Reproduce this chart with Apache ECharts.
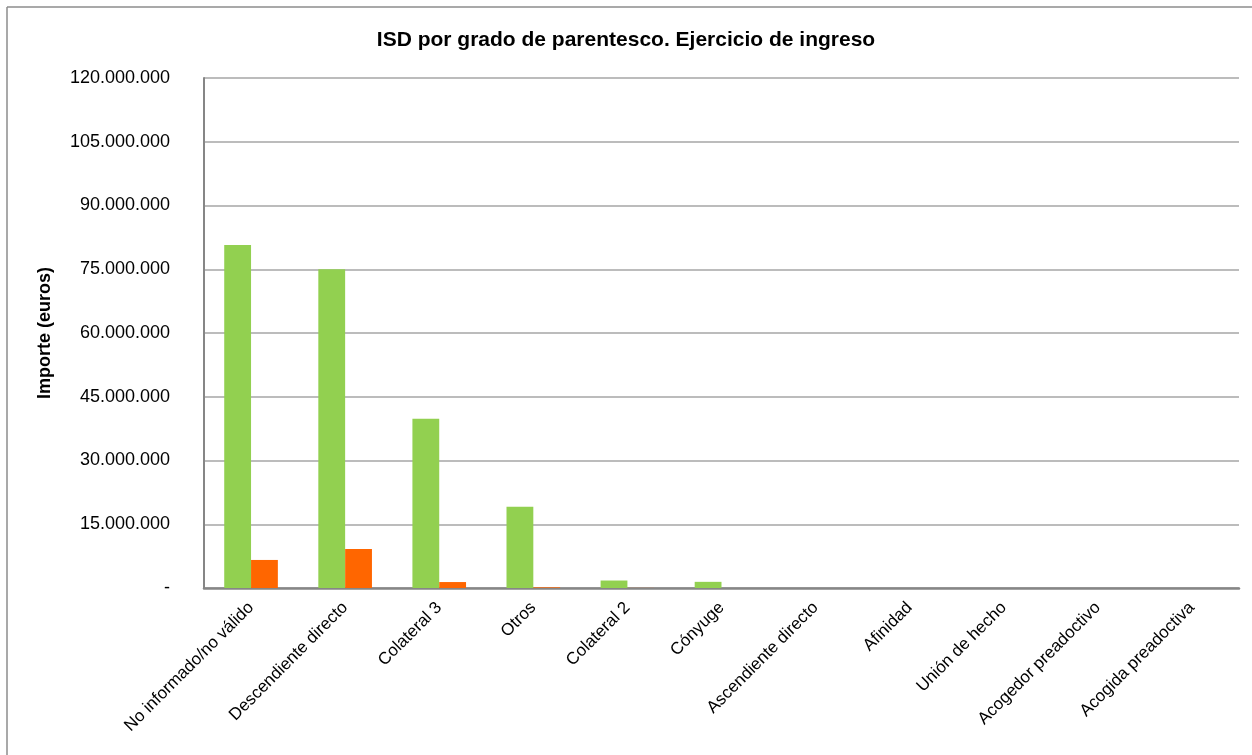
<!DOCTYPE html>
<html>
<head>
<meta charset="utf-8">
<script src="https://cdn.jsdelivr.net/npm/echarts@6/dist/echarts.min.js"></script>
<style>
  html, body { margin: 0; padding: 0; background: #fff; }
  #chart { width: 1252px; height: 755px; }
</style>
</head>
<body>
<div id="chart"></div>
<script>
// categorías (grado de parentesco)
const categories = [
  "No informado/no válido", "Descendiente directo", "Colateral 3", "Otros",
  "Colateral 2", "Cónyuge", "Ascendiente directo", "Afinidad",
  "Unión de hecho", "Acogedor preadoctivo", "Acogida preadoctiva"
];
// importes en euros
const serieVerde = [80700000, 75000000, 39800000, 19100000, 1760000, 1450000, 0, 0, 0, 0, 0];
const serieNaranja = [6600000, 9200000, 1400000, 150000, 20000, 0, 0, 0, 0, 0, 0];
const yTicks = [0, 15000000, 30000000, 45000000, 60000000, 75000000, 90000000, 105000000, 120000000];

const fontFam = "'Liberation Sans', Arial, sans-serif";

const chart = echarts.init(document.getElementById("chart"));

const fmt = (v) => v === 0 ? "-" : String(v).replace(/\B(?=(\d{3})+(?!\d))/g, ".");

chart.setOption({
  animation: false,
  title: {
    text: "ISD por grado de parentesco. Ejercicio de ingreso",
    left: "center",
    top: 25,
    textStyle: { fontFamily: fontFam, fontSize: 21, fontWeight: "bold", color: "#000" }
  },
  // marco exterior (solo borde superior e izquierdo visibles)
  graphic: [
    { type: "line", shape: { x1: 7, y1: 7, x2: 1252, y2: 7 }, style: { stroke: "#8c8c8c", lineWidth: 1.5 } },
    { type: "line", shape: { x1: 7, y1: 7, x2: 7, y2: 755 }, style: { stroke: "#8c8c8c", lineWidth: 1.5 } }
  ],
  grid: { left: 204, right: 13, top: 78, bottom: 167 },
  xAxis: {
    type: "category",
    data: categories,
    axisLine: { lineStyle: { color: "#868686", width: 2.5 } },
    axisTick: { show: false },
    axisLabel: {
      rotate: 45,
      interval: 0,
      margin: 17,
      fontFamily: fontFam,
      fontSize: 17,
      color: "#000"
    }
  },
  yAxis: {
    type: "value",
    min: yTicks[0],
    max: yTicks[yTicks.length - 1],
    interval: yTicks[1] - yTicks[0],
    name: "Importe (euros)",
    nameLocation: "middle",
    nameGap: 150,
    nameTextStyle: { fontFamily: fontFam, fontSize: 18, fontWeight: "bold", color: "#000" },
    axisLine: { show: true, lineStyle: { color: "#868686", width: 2 } },
    axisTick: { show: false },
    splitLine: { lineStyle: { color: "#a6a6a6", width: 1.5 } },
    axisLabel: {
      margin: 34,
      fontFamily: fontFam,
      fontSize: 18,
      color: "#000",
      formatter: fmt
    }
  },
  series: [
    {
      type: "bar",
      data: serieVerde,
      itemStyle: { color: "#92d050" },
      barGap: "0%",
      barCategoryGap: "43%"
    },
    {
      type: "bar",
      data: serieNaranja,
      itemStyle: { color: "#ff6600" }
    }
  ]
});
</script>
</body>
</html>
